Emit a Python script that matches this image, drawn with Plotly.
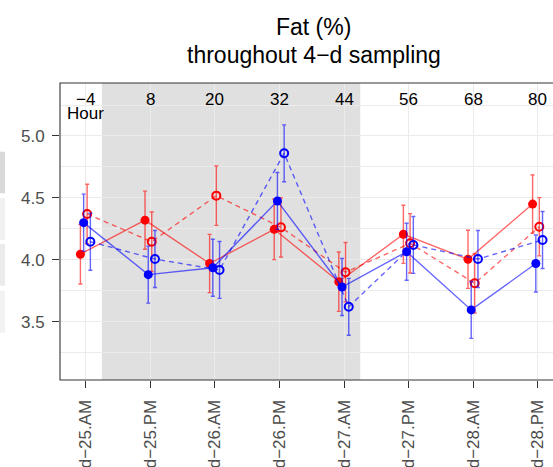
import plotly.graph_objects as go

# ---- data ----
sessions = ["d−25.AM", "d−25.PM", "d−26.AM", "d−26.PM",
            "d−27.AM", "d−27.PM", "d−28.AM", "d−28.PM"]
hours = ["−4", "8", "20", "32", "44", "56", "68", "80"]

red_solid = [4.045, 4.32, 3.97, 4.246, 3.823, 4.206, 4.004, 4.45]
red_solid_se = [0.24, 0.235, 0.235, 0.245, 0.24, 0.235, 0.235, 0.235]
blue_solid = [4.30, 3.88, 3.936, 4.475, 3.78, 4.065, 3.595, 3.97]
blue_solid_se = [0.23, 0.23, 0.23, 0.23, 0.23, 0.23, 0.23, 0.23]
red_dash = [4.37, 4.146, 4.518, 4.262, 3.90, 4.133, 3.81, 4.267]
red_dash_se = [0.24, 0.24, 0.24, 0.24, 0.24, 0.24, 0.24, 0.235]
blue_dash = [4.146, 4.006, 3.918, 4.86, 3.62, 4.12, 4.006, 4.16]
blue_dash_se = [0.23, 0.23, 0.23, 0.23, 0.23, 0.23, 0.23, 0.23]

FONT = "Liberation Sans, Arial, Helvetica, sans-serif"
RED = "#FF0000"
BLUE = "#0000FF"
RED_T = "rgba(255,0,0,0.6)"
BLUE_T = "rgba(0,0,255,0.6)"

idx = list(range(len(sessions)))

series = [
    # values, se, marker color, line color, filled, dash, dodge
    (red_solid, red_solid_se, RED, RED_T, True, "solid", -0.082),
    (red_dash, red_dash_se, RED, RED_T, False, "5px,4px", 0.022),
    (blue_solid, blue_solid_se, BLUE, BLUE_T, True, "solid", -0.032),
    (blue_dash, blue_dash_se, BLUE, BLUE_T, False, "5px,4px", 0.072),
]

fig = go.Figure()
for vals, se, mc, lc, filled, dash, dodge in series:
    fig.add_trace(go.Scatter(
        x=[i + dodge for i in idx], y=vals,
        mode="lines+markers",
        line=dict(color=lc, width=1.4, dash=dash),
        marker=dict(
            symbol="circle" if filled else "circle-open",
            size=9 if filled else 8,
            color=mc,
            line=dict(color=mc, width=0 if filled else 2),
        ),
        error_y=dict(type="data", array=se, visible=True,
                     color=lc, thickness=1.4, width=2),
        showlegend=False,
    ))

shapes = [
    # shaded period
    dict(type="rect", xref="x", yref="paper", x0=0.25, x1=4.25, y0=0, y1=1,
         fillcolor="rgba(0,0,0,0.12)", line=dict(width=0), layer="between"),
    # panel border (left, top, bottom; right side is beyond the picture)
    dict(type="rect", xref="paper", yref="paper", x0=0, x1=1.05, y0=0, y1=1,
         line=dict(color="#333333", width=1.1), fillcolor="rgba(0,0,0,0)",
         layer="above"),
]
# cut-off legend keys at far left
for (ya, yb, col) in [(151.7, 193.3, "#d9d9d9"), (198, 240, "#f1f1f1"),
                      (244, 285.7, "#ebebeb"), (290.7, 332.7, "#f2f2f2")]:
    shapes.append(dict(type="rect", xref="paper", yref="paper",
                       x0=(0 - 60) / 493, x1=(5 - 60) / 493,
                       y0=(380 - yb) / 297, y1=(380 - ya) / 297,
                       fillcolor=col, line=dict(width=0)))

annotations = []
for i, h in enumerate(hours):
    annotations.append(dict(x=i, y=0.9445, xref="x", yref="paper", text=h,
                            showarrow=False, font=dict(size=17, color="black"),
                            xanchor="center", yanchor="middle"))
annotations.append(dict(x=0, y=0.897, xref="x", yref="paper", text="Hour",
                        showarrow=False, font=dict(size=17, color="black"),
                        xanchor="center", yanchor="middle"))
annotations.append(dict(x=0.515, y=1.1886, xref="paper", yref="paper",
                        text="Fat (%)", showarrow=False,
                        font=dict(size=23, color="black"),
                        xanchor="center", yanchor="middle"))
annotations.append(dict(x=0.515, y=1.0943, xref="paper", yref="paper",
                        text="throughout 4−d sampling", showarrow=False,
                        font=dict(size=23, color="black"),
                        xanchor="center", yanchor="middle"))

fig.update_layout(
    width=553, height=467,
    margin=dict(l=60, r=0, t=83, b=87),
    paper_bgcolor="white", plot_bgcolor="white",
    font=dict(family=FONT, size=17, color="#4d4d4d"),
    shapes=shapes, annotations=annotations,
    xaxis=dict(
        range=[-0.398, 7.234],
        tickvals=idx, ticktext=sessions, tickangle=-90,
        ticks="outside", ticklen=7, tickwidth=1.2, tickcolor="#333333",
        ticklabelstandoff=5,
        showgrid=True, gridcolor="#ebebeb", gridwidth=1.4,
        zeroline=False, showline=False, automargin=False,
        tickfont=dict(size=17, color="#4d4d4d"),
    ),
    yaxis=dict(
        range=[3.029, 5.428],
        tickvals=[3.5, 4.0, 4.5, 5.0], ticktext=["3.5", "4.0", "4.5", "5.0"],
        ticks="outside", ticklen=7, tickwidth=1.2, tickcolor="#333333",
        ticklabelstandoff=4,
        showgrid=True, gridcolor="#ebebeb", gridwidth=1.4,
        minor=dict(tickvals=[3.25, 3.75, 4.25, 4.75, 5.25], showgrid=True,
                   gridcolor="#ebebeb", gridwidth=1.1, ticks=""),
        zeroline=False, showline=False, automargin=False,
        tickfont=dict(size=17, color="#4d4d4d"),
    ),
)

fig.write_html(
    "out.html",
    config={"displayModeBar": False},
    post_script="document.body.style.margin='0';document.body.style.overflow='hidden';",
)
